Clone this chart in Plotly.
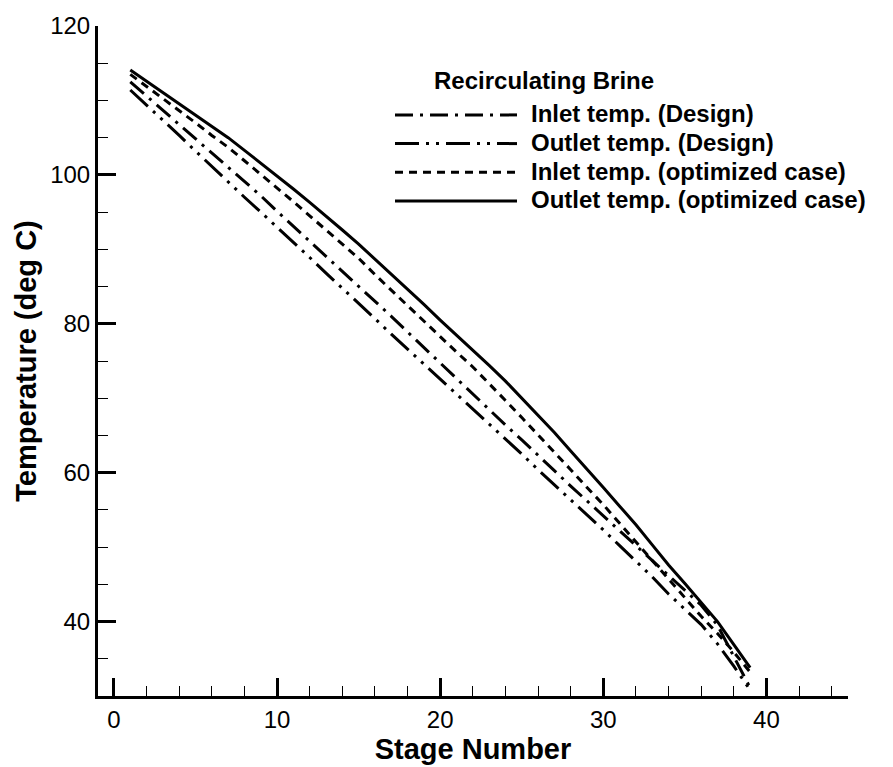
import plotly.graph_objects as go

# Stage numbers of the recovery train
stages = list(range(1, 40))

# Recirculating brine temperatures (deg C) per stage
inlet_design = [112.5, 110.6, 108.7, 106.8, 104.9, 103.0, 101.1, 99.2, 97.2, 95.1,
                93.1, 91.0, 89.0, 87.0, 85.0, 83.0, 81.0, 78.9, 76.8, 74.7,
                72.6, 70.6, 68.5, 66.4, 64.4, 62.3, 60.3, 58.2, 56.2, 54.2,
                52.2, 50.2, 48.2, 46.2, 44.2, 42.2, 39.5, 35.2, 31.1]
outlet_design = [111.4, 109.4, 107.3, 105.3, 103.2, 101.1, 99.1, 97.0, 95.0, 93.0,
                 91.0, 88.9, 86.8, 84.8, 82.7, 80.7, 78.6, 76.6, 74.6, 72.6,
                 70.6, 68.6, 66.5, 64.5, 62.5, 60.4, 58.4, 56.3, 54.3, 52.3,
                 50.2, 48.1, 46.0, 43.7, 41.7, 39.6, 37.0, 34.0, 30.8]
inlet_opt = [113.5, 111.9, 110.3, 108.6, 107.0, 105.3, 103.7, 101.9, 100.1, 98.2,
             96.4, 94.5, 92.6, 90.8, 88.8, 86.6, 84.5, 82.5, 80.4, 78.3,
             76.2, 74.2, 72.0, 69.7, 67.4, 65.1, 62.8, 60.4, 58.0, 55.7,
             53.2, 50.7, 48.2, 45.7, 43.2, 40.7, 38.4, 35.9, 33.2]
outlet_opt = [114.1, 112.6, 111.1, 109.6, 108.1, 106.5, 105.0, 103.3, 101.6, 99.9,
              98.1, 96.3, 94.5, 92.6, 90.7, 88.7, 86.7, 84.6, 82.6, 80.5,
              78.5, 76.4, 74.4, 72.3, 70.0, 67.7, 65.4, 62.9, 60.5, 58.0,
              55.5, 53.0, 50.3, 47.6, 45.1, 42.5, 40.0, 36.9, 33.8]

series_names = ["Inlet temp. (Design)", "Outlet temp. (Design)",
                "Inlet temp. (optimized case)", "Outlet temp. (optimized case)"]
series_values = [inlet_design, outlet_design, inlet_opt, outlet_opt]
dash_styles = ["18px,7px,3px,7px", "24px,7px,3px,7px,3px,7px", "8px,6px", "solid"]
legend_title = "Recirculating Brine"

W, H = 893, 767
ML, MR, MT, MB = 98, 45, 16, 69
PW, PH = W - ML - MR, H - MT - MB


def px_to_paper(x, y):
    return (x - ML) / PW, (H - MB - y) / PH


FONT = "Arial, Liberation Sans, Helvetica, sans-serif"

fig = go.Figure()
for name, vals, dash in zip(series_names, series_values, dash_styles):
    fig.add_trace(go.Scatter(x=stages, y=vals, mode="lines", name=name,
                             line=dict(color="black", width=3, dash=dash),
                             showlegend=False))

# Hand-built legend block with long line samples
shapes, annotations = [], []
x0, _ = px_to_paper(395, 0)
x1, _ = px_to_paper(517, 0)
xt, _ = px_to_paper(529, 0)
for i, (name, dash) in enumerate(zip(series_names, dash_styles)):
    py = 106.5 + i * 29.2
    _, yp = px_to_paper(0, py)
    shapes.append(dict(type="line", xref="paper", yref="paper", x0=x0, x1=x1, y0=yp, y1=yp,
                       line=dict(color="black", width=3, dash=dash)))
    _, yt = px_to_paper(0, py - 1)
    annotations.append(dict(xref="paper", yref="paper", x=xt, y=yt, xanchor="left", yanchor="middle",
                            text="<b>" + name + "</b>", showarrow=False,
                            font=dict(family=FONT, size=24, color="black")))
tx, ty = px_to_paper(432, 71)
annotations.append(dict(xref="paper", yref="paper", x=tx, y=ty, xanchor="left", yanchor="middle",
                        text="<b>" + legend_title + "</b>", showarrow=False,
                        font=dict(family=FONT, size=24, color="black")))

axis_common = dict(showline=True, linewidth=3, linecolor="black", mirror=False,
                   showgrid=False, zeroline=False, ticks="inside", ticklen=18, tickwidth=3,
                   tickcolor="black", tickfont=dict(family=FONT, size=24, color="black"))

fig.update_layout(
    width=W, height=H,
    margin=dict(l=ML, r=MR, t=MT, b=MB),
    paper_bgcolor="white", plot_bgcolor="white",
    shapes=shapes, annotations=annotations,
    xaxis=dict(range=[-0.98, 45], tick0=0, dtick=10,
               minor=dict(dtick=2, ticks="inside", ticklen=10, tickwidth=1, tickcolor="black"),
               title=dict(text="<b>Stage Number</b>", font=dict(family=FONT, size=29, color="black"),
                          standoff=2),
               **axis_common),
    yaxis=dict(range=[30, 120], tick0=0, dtick=20,
               minor=dict(dtick=5, ticks="inside", ticklen=10, tickwidth=1, tickcolor="black"),
               title=dict(text="<b>Temperature (deg C)</b>", font=dict(family=FONT, size=29, color="black"),
                          standoff=6),
               **axis_common),
)

fig.write_html("out.html")
